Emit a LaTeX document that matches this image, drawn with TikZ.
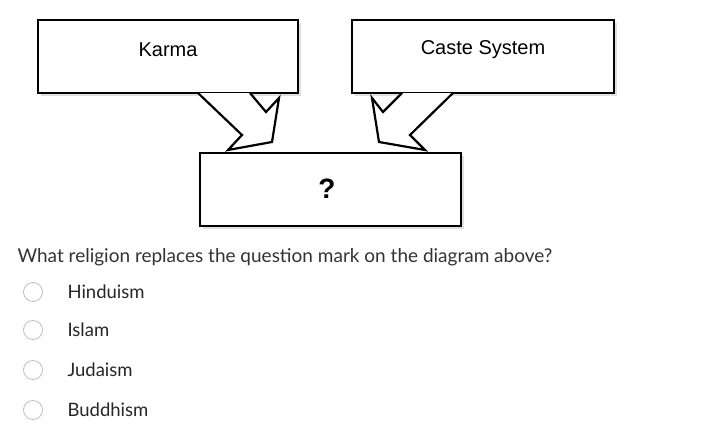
\documentclass[tikz,border=0pt]{standalone}
\usepackage{fontspec}
\setmainfont{Lato}
\newfontfamily\arialf{Liberation Sans}
\begin{document}
\begin{tikzpicture}[x=1pt,y=-1pt,
  box/.style={draw=black,line width=2.6pt,fill=white},
  arr/.style={draw=black,line width=2.2pt,fill=white,line join=miter},
  radio/.style={circle,draw=gray!50,line width=0.8pt,minimum size=19pt,inner sep=0pt},
  opt/.style={anchor=west,font=\fontsize{18.5}{20}\selectfont,text=black!85}]
\useasboundingbox (0,0) rectangle (720,447);
\fill[white] (0,0) rectangle (720,447);
\foreach \a/\b/\c/\d in {38/20/298/93,352/20/614/93,200/153/461/226}
  \fill[black!12] (\a+3,\b+3) rectangle (\c+3,\d+3);
\draw[box] (38,20) rectangle (298,93);
\node (karma) at (168,50) {\arialf\fontsize{20}{22}\selectfont Karma};
\draw[box] (352,20) rectangle (614,93);
\node (caste) at (483,50) {\arialf\fontsize{20}{22}\selectfont Caste System};
\draw[arr] (198,93) -- (242,135) -- (228,150) -- (272,142) -- (279,98) -- (266,112) -- (250,93);
\draw[arr] (402,93) -- (383,112) -- (372,98) -- (379,142) -- (425,150) -- (410,135) -- (453,93);
\draw[box] (200,153) rectangle (461,226);
\node (q) at (327,189) {\arialf\bfseries\fontsize{28}{30}\selectfont ?};
\node[anchor=west,font=\fontsize{19}{21}\selectfont,text=black!80] (ques) at (14,257) {What religion replaces the question mark on the diagram above?};
\foreach \y/\t/\n in {292/Hinduism/a,330/Islam/b,370/Judaism/c,410/Buddhism/d}{
  \node[radio] (r\n) at (33,\y) {};
  \node[opt] (o\n) at (64,\y) {\t};
}
\end{tikzpicture}
\end{document}
